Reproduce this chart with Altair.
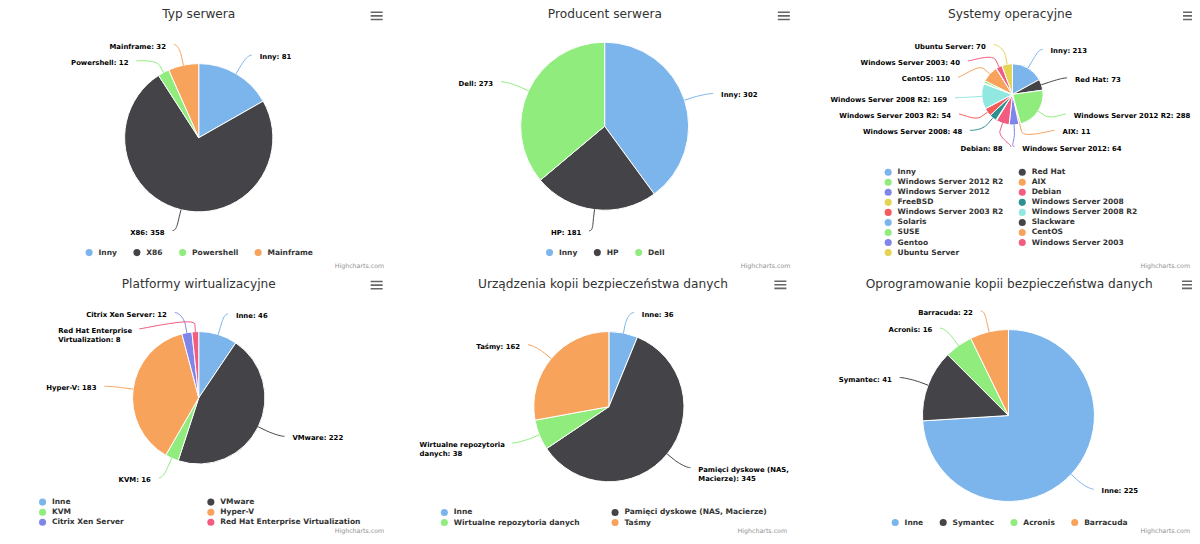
import math
import altair as alt
import pandas as pd

# ---------------- data ----------------
TITLES = [
    "Typ serwera",
    "Producent serwera",
    "Systemy operacyjne",
    "Platformy wirtualizacyjne",
    "Urządzenia kopii bezpieczeństwa danych",
    "Oprogramowanie kopii bezpieczeństwa danych",
]
TYP_NAMES = ["Inny", "X86", "Powershell", "Mainframe"]
TYP_VALUES = [81, 358, 12, 32]

PROD_NAMES = ["Inny", "HP", "Dell"]
PROD_VALUES = [302, 181, 273]

OS_NAMES = ["Inny", "Red Hat", "Windows Server 2012 R2", "AIX", "Windows Server 2012",
            "Debian", "FreeBSD", "Windows Server 2008", "Windows Server 2003 R2",
            "Windows Server 2008 R2", "Solaris", "Slackware", "SUSE", "CentOS",
            "Gentoo", "Windows Server 2003", "Ubuntu Server"]
OS_VALUES = [213, 73, 288, 11, 64, 88, 5, 48, 54, 169, 2, 2, 16, 110, 2, 40, 70]

VIRT_NAMES = ["Inne", "VMware", "KVM", "Hyper-V", "Citrix Xen Server",
              "Red Hat Enterprise Virtualization"]
VIRT_VALUES = [46, 222, 16, 183, 12, 8]

DEV_NAMES = ["Inne", "Pamięci dyskowe (NAS, Macierze)", "Wirtualne repozytoria danych", "Taśmy"]
DEV_VALUES = [36, 345, 38, 162]

SW_NAMES = ["Inne", "Symantec", "Acronis", "Barracuda"]
SW_VALUES = [225, 41, 16, 22]

PALETTE = ["#7cb5ec", "#434348", "#90ed7d", "#f7a35c", "#8085e9",
           "#f15c80", "#e4d354", "#2b908f", "#f45b5b", "#91e8e1"]
CREDIT = "Highcharts.com"

SERIES = [(TYP_NAMES, TYP_VALUES), (PROD_NAMES, PROD_VALUES), (OS_NAMES, OS_VALUES),
          (VIRT_NAMES, VIRT_VALUES), (DEV_NAMES, DEV_VALUES), (SW_NAMES, SW_VALUES)]

# ---------------- layout (reference pixel space) ----------------
PANELS = [
    dict(left=0, right=400, cx=194.0, cy=135.7, r=75, tx=194, ty=10, leg_y=252.3, cred=(381.7, 265.7), menu=(374, 12)),
    dict(left=400, right=800, cx=604.7, cy=124.0, r=85, tx=605, ty=10, leg_y=252.3, cred=(792.7, 265.7), menu=(786, 12)),
    dict(left=800, right=1200, cx=1017.3, cy=91.7, r=31, tx=1015, ty=10, leg_y=252.3, cred=(1197.0, 265.7), menu=(1196, 12)),
    dict(left=0, right=400, cx=194.0, cy=399.7, r=67, tx=194, ty=284, leg_y=526.0, cred=(381.7, 535.0), menu=(374, 285.3)),
    dict(left=400, right=800, cx=609.0, cy=408.7, r=76, tx=603, ty=284, leg_y=526.3, cred=(789.3, 535.0), menu=(782.5, 285)),
    dict(left=800, right=1200, cx=1013.3, cy=417.7, r=87, tx=1014, ty=284, leg_y=526.3, cred=(1197.0, 535.0), menu=(1195, 285)),
]

CANVAS_W, CANVAS_H = 1184, 528
X_DOMAIN = [1, 1199]
Y_DOMAIN = [4, 540]
SX = CANVAS_W / (X_DOMAIN[1] - X_DOMAIN[0])
SY = CANVAS_H / (Y_DOMAIN[1] - Y_DOMAIN[0])

DIST = 22.0
XSTRETCH = 1.06
LPAD = 10.0
SLOT = 16.5
YOFF = 2.0
LINEH = 9.3
CONN_OFF = 7.7
LABEL_FS = 6.9
LEGEND_FS = 7.5
TITLE_FS = 12.2
CREDIT_FS = 6.3
LEG_MAXW = 360
LEG_GAP = 30
LEG_TEXT_DX = 9.5
LEG_ROWH = 10.2
LEG_DIST = 16.5
FONT = "DejaVu Sans"

BOLD_W = {
    'a': .675, 'b': .716, 'c': .593, 'd': .716, 'e': .678, 'f': .435, 'g': .716, 'h': .712,
    'i': .343, 'j': .343, 'k': .665, 'l': .343, 'm': 1.042, 'n': .712, 'o': .687, 'p': .716,
    'q': .716, 'r': .493, 's': .595, 't': .478, 'u': .712, 'v': .652, 'w': .924, 'x': .645,
    'y': .652, 'z': .582, 'A': .774, 'B': .762, 'C': .734, 'D': .830, 'E': .683, 'F': .683,
    'G': .821, 'H': .837, 'I': .372, 'J': .372, 'K': .775, 'L': .637, 'M': .995, 'N': .837,
    'O': .850, 'P': .733, 'Q': .850, 'R': .770, 'S': .720, 'T': .682, 'U': .812, 'V': .774,
    'W': 1.103, 'X': .771, 'Y': .724, 'Z': .725, ' ': .348, ':': .400, ',': .380, '(': .457,
    ')': .457, '-': .415, '.': .380, 'ą': .675, 'ę': .678, 'ś': .595, 'ń': .712, 'ł': .343,
    'ó': .687, 'ż': .582, 'ź': .582, 'ć': .593,
}


def text_w(s, size):
    return sum(BOLD_W.get(ch, 0.696 if ch.isdigit() else 0.65) for ch in s) * size


def distribute(targets, h, lo, hi):
    clusters = []

    def pos(c):
        start, n, s = c
        return min(max(s / n, lo), max(lo, hi - (n - 1) * h))

    for j, t in enumerate(targets):
        c = [j, 1, t]
        while clusters and pos(clusters[-1]) + clusters[-1][1] * h > pos(c):
            p = clusters.pop()
            c = [p[0], p[1] + c[1], p[2] + c[2] - c[1] * p[1] * h]
        clusters.append(c)
    out = []
    for c in clusters:
        y0 = pos(c)
        out += [y0 + k * h for k in range(c[1])]
    return out


def wrap(text, avail, size):
    words = text.split(" ")
    lines, cur = [], ""
    for w in words:
        cand = w if not cur else cur + " " + w
        if cur and text_w(cand, size) > avail:
            lines.append(cur)
            cur = w
        else:
            cur = cand
    lines.append(cur)
    return lines


def cubic(p0, p1, p2, p3, n):
    pts = []
    for k in range(n + 1):
        t = k / n
        u = 1 - t
        x = u**3 * p0[0] + 3 * u * u * t * p1[0] + 3 * u * t * t * p2[0] + t**3 * p3[0]
        y = u**3 * p0[1] + 3 * u * u * t * p1[1] + 3 * u * t * t * p2[1] + t**3 * p3[1]
        pts.append((x, y))
    return pts


conn_rows, lab_left, lab_right = [], [], []
dot_rows, leg_rows, title_rows, cred_rows, menu_rows = [], [], [], [], []
arc_layers = []

for pi, ((names, values), P) in enumerate(zip(SERIES, PANELS)):
    colors = [PALETTE[i % len(PALETTE)] for i in range(len(names))]
    # ---- slices ----
    df_arc = pd.DataFrame({"name": names, "value": values, "idx": list(range(len(names))), "color": colors})
    arc_layers.append(
        alt.Chart(df_arc).mark_arc(stroke="#ffffff", strokeWidth=1).encode(
            theta=alt.Theta("value:Q", stack=True),
            order=alt.Order("idx:Q", sort="ascending"),
            color=alt.Color("color:N", scale=None),
            x=alt.value((P["cx"] - X_DOMAIN[0]) * SX),
            y=alt.value((P["cy"] - Y_DOMAIN[0]) * SY),
            radius=alt.value(P["r"] * SX),
        )
    )
    # ---- data labels ----
    total = float(sum(values))
    cx, cy, r = P["cx"], P["cy"], P["r"]
    Ry = r + DIST
    Rx = Ry * XSTRETCH
    items, cum = [], 0.0
    for i, (n, v) in enumerate(zip(names, values)):
        a = (cum + v / 2.0) / total * 2 * math.pi
        cum += v
        items.append(dict(i=i, name=n, value=v, a=a, side=1 if a < math.pi else -1,
                          ny=cy - Ry * math.cos(a), color=colors[i]))
    lo, hi = cy - Ry + 2.5, cy + Ry
    cap = int((hi - lo) // SLOT) + 1
    for side in (1, -1):
        pts = [it for it in items if it["side"] == side]
        if len(pts) > cap:
            keep = {it["i"] for it in sorted(pts, key=lambda it: -it["value"])[:cap]}
            pts = [it for it in pts if it["i"] in keep]
        pts.sort(key=lambda it: it["ny"])
        if side < 0:
            for k in range(len(pts) - 1):
                a_, b_ = pts[k], pts[k + 1]
                if abs(a_["ny"] - b_["ny"]) < 2 and b_["value"] > a_["value"]:
                    pts[k], pts[k + 1] = b_, a_
        ys = distribute([p["ny"] for p in pts], SLOT, lo, hi)
        for p, y in zip(pts, ys):
            d = max(-1.0, min(1.0, (y - cy) / Ry))
            x = cx + side * Rx * math.sqrt(1 - d * d)
            dx, dy = math.sin(p["a"]), -math.cos(p["a"])
            E = (cx + r * dx, cy + r * dy)
            B = (E[0] + CONN_OFF * dx, E[1] + CONN_OFF * dy)
            C2 = (2 * B[0] - E[0], 2 * B[1] - E[1])
            path = cubic((x + side * 2, y), (x - side * 2, y), C2, B, 14) + [E]
            key = f"{pi}-{p['i']}"
            for k, (px_, py_) in enumerate(path):
                conn_rows.append(dict(key=key, k=k, x=px_, y=py_, color=p["color"]))
            label = f"{p['name']}: {p['value']}"
            tx = x + side * LPAD
            avail = (P["right"] - tx + 4) if side > 0 else (tx - P["left"] + 4)
            lines = wrap(label, avail, LABEL_FS)
            for li, line in enumerate(lines):
                row = dict(x=tx, y=y + YOFF + li * LINEH, text=line)
                if side > 0:
                    lab_left.append(row)
                elif len(lines) == 1:
                    lab_right.append(row)
                else:
                    row["x"] = tx - max(text_w(l, LABEL_FS) for l in lines)
                    lab_left.append(row)
    # ---- legend ----
    ws = [text_w(n, LEGEND_FS) for n in names]
    nn = len(names)
    single = LEG_TEXT_DX + 4 + sum(ws) + LEG_GAP * (nn - 1)
    if single <= LEG_MAXW:
        x = P["tx"] - single / 2 + 4
        for k in range(nn):
            dot_rows.append(dict(x=x, y=P["leg_y"], color=colors[k]))
            leg_rows.append(dict(x=x + LEG_TEXT_DX, y=P["leg_y"], text=names[k]))
            x += ws[k] + LEG_GAP
    else:
        colw = max(ws) + LEG_GAP
        cols = max(1, int((LEG_MAXW + LEG_DIST) // colw))
        rows = math.ceil(nn / cols)
        total_w = cols * colw - LEG_DIST
        x0 = P["tx"] - total_w / 2 + 4
        for k in range(nn):
            rr, cc = divmod(k, cols)
            x = x0 + cc * colw
            y = P["leg_y"] - (rows - 1 - rr) * LEG_ROWH
            dot_rows.append(dict(x=x, y=y, color=colors[k]))
            leg_rows.append(dict(x=x + LEG_TEXT_DX, y=y, text=names[k]))
    title_rows.append(dict(x=P["tx"], y=P["ty"], text=TITLES[pi]))
    cred_rows.append(dict(x=P["cred"][0], y=P["cred"][1], text=CREDIT))
    menu_rows.append(dict(x=P["menu"][0], y=P["menu"][1]))

XS = alt.Scale(domain=X_DOMAIN, range=[0, CANVAS_W], zero=False, nice=False)
YS = alt.Scale(domain=Y_DOMAIN, range=[0, CANVAS_H], zero=False, nice=False)


def xy():
    return dict(x=alt.X("x:Q", scale=XS, axis=None), y=alt.Y("y:Q", scale=YS, axis=None))


connectors = alt.Chart(pd.DataFrame(conn_rows)).mark_line(strokeWidth=1, interpolate="linear").encode(
    detail="key:N", order="k:Q", color=alt.Color("color:N", scale=None), **xy())

labels_l = alt.Chart(pd.DataFrame(lab_left)).mark_text(
    font=FONT, fontSize=LABEL_FS, fontWeight="bold", color="#000000", align="left", baseline="middle"
).encode(text="text:N", **xy())
labels_r = alt.Chart(pd.DataFrame(lab_right)).mark_text(
    font=FONT, fontSize=LABEL_FS, fontWeight="bold", color="#000000", align="right", baseline="middle"
).encode(text="text:N", **xy())

dots = alt.Chart(pd.DataFrame(dot_rows)).mark_point(filled=True, shape="circle", size=50, opacity=1).encode(
    color=alt.Color("color:N", scale=None), **xy())
leg_text = alt.Chart(pd.DataFrame(leg_rows)).mark_text(
    font=FONT, fontSize=LEGEND_FS, fontWeight="bold", color="#333333", align="left", baseline="middle"
).encode(text="text:N", **xy())

titles = alt.Chart(pd.DataFrame(title_rows)).mark_text(
    font=FONT, fontSize=TITLE_FS, color="#333333", align="center", baseline="middle"
).encode(text="text:N", **xy())
credits = alt.Chart(pd.DataFrame(cred_rows)).mark_text(
    font=FONT, fontSize=CREDIT_FS, color="#909090", align="right", baseline="middle"
).encode(text="text:N", **xy())
menus = alt.Chart(pd.DataFrame(menu_rows)).mark_point(
    shape="M-1,-0.6L1,-0.6M-1,0L1,0M-1,0.6L1,0.6", filled=False, color="#666666",
    strokeWidth=1.6, size=144, opacity=1
).encode(**xy())

chart = alt.layer(
    *arc_layers, connectors, labels_l, labels_r, dots, leg_text, titles, credits, menus
).resolve_scale(theta="independent").properties(
    width=CANVAS_W, height=CANVAS_H, padding=0, autosize=alt.AutoSizeParams(type="none")
).configure_view(strokeWidth=0)

chart.save("out.html", embed_options={"renderer": "svg", "actions": False})
